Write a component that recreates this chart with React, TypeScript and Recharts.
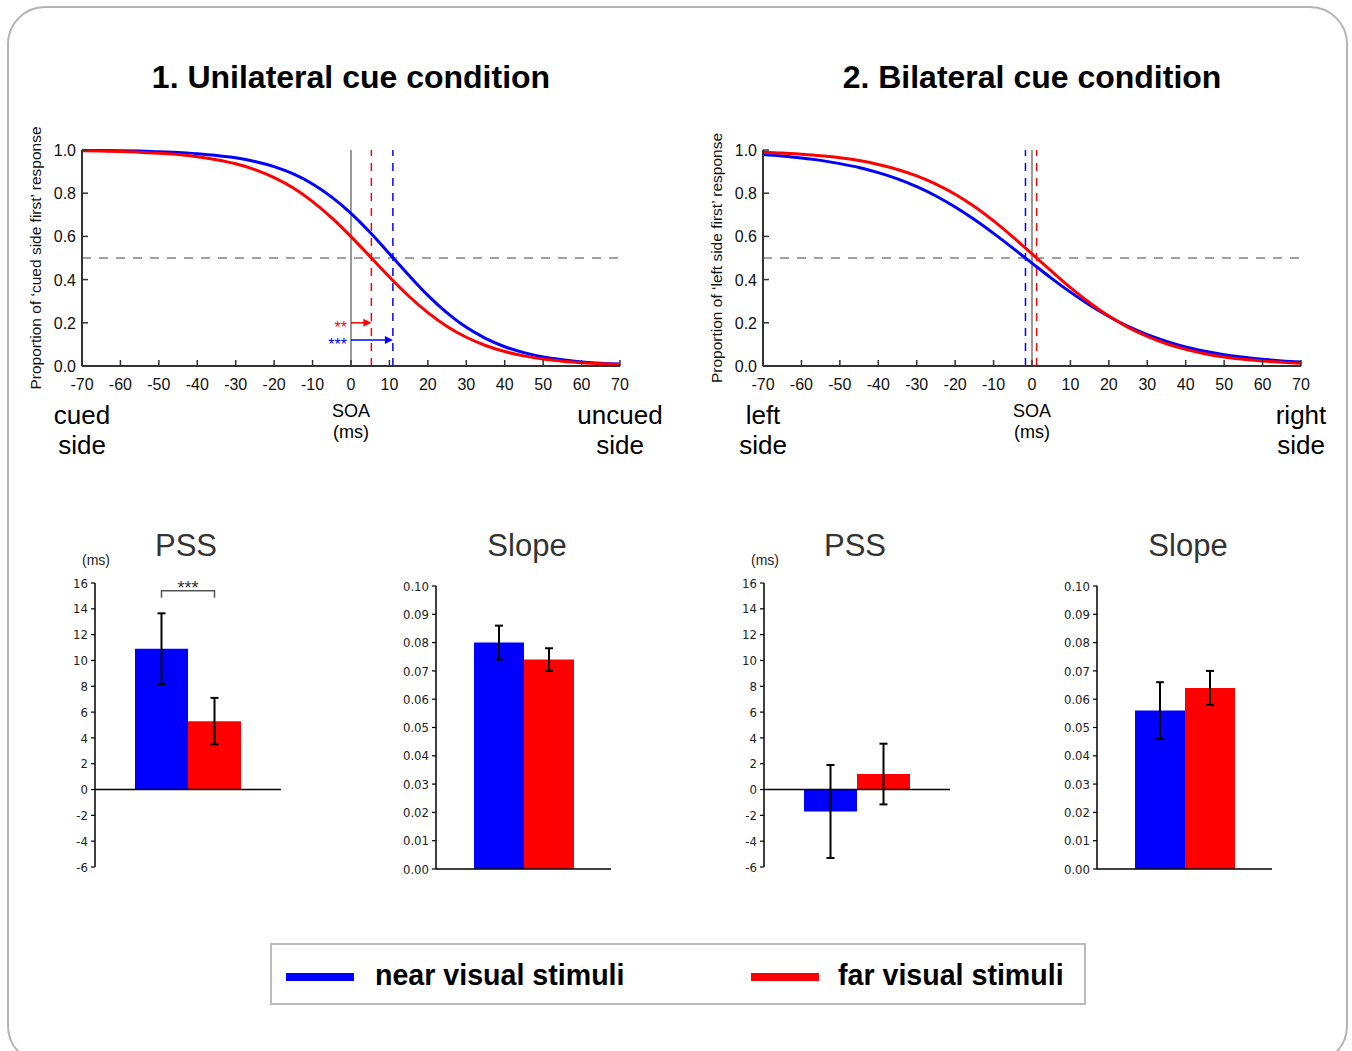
import React from "react";
import {
  LineChart,
  Line,
  XAxis,
  YAxis,
  ReferenceLine,
  BarChart,
  Bar,
  ErrorBar,
} from "recharts";

const SANS = "'Liberation Sans', Arial, Helvetica, sans-serif";
const NARROW = "'Liberation Sans Narrow', 'DejaVu Sans Condensed', 'Liberation Sans', Arial, sans-serif";
const NEAR = "#0000ff";
const FAR = "#ff0000";

const SOA = [-70, -65, -60, -55, -50, -45, -40, -35, -30, -25, -20, -15, -10, -5, 0, 5, 10, 15, 20, 25, 30, 35, 40, 45, 50, 55, 60, 65, 70];
const UNI_NEAR = [0.998, 0.998, 0.997, 0.995, 0.992, 0.989, 0.983, 0.975, 0.964, 0.947, 0.923, 0.889, 0.843, 0.782, 0.707, 0.618, 0.52, 0.421, 0.327, 0.246, 0.179, 0.128, 0.089, 0.062, 0.042, 0.029, 0.019, 0.013, 0.009];
const UNI_FAR = [0.997, 0.995, 0.993, 0.99, 0.985, 0.979, 0.969, 0.955, 0.936, 0.909, 0.872, 0.824, 0.761, 0.686, 0.599, 0.506, 0.412, 0.324, 0.247, 0.183, 0.133, 0.095, 0.067, 0.047, 0.032, 0.022, 0.015, 0.011, 0.007];
const BI_NEAR = [0.979, 0.972, 0.963, 0.952, 0.937, 0.919, 0.895, 0.866, 0.83, 0.787, 0.736, 0.678, 0.614, 0.546, 0.476, 0.407, 0.342, 0.282, 0.229, 0.183, 0.145, 0.114, 0.088, 0.068, 0.052, 0.04, 0.031, 0.023, 0.018];
const BI_FAR = [0.99, 0.986, 0.98, 0.973, 0.964, 0.951, 0.933, 0.91, 0.88, 0.842, 0.795, 0.738, 0.672, 0.598, 0.519, 0.44, 0.363, 0.293, 0.231, 0.179, 0.137, 0.103, 0.077, 0.057, 0.042, 0.031, 0.023, 0.017, 0.012];

const SOA_TICKS = [-70, -60, -50, -40, -30, -20, -10, 0, 10, 20, 30, 40, 50, 60, 70];
const PROP_TICKS = [0, 0.2, 0.4, 0.6, 0.8, 1.0];

// bar panels: [near, far]
const UNI_PSS = [10.9, 5.3];
const UNI_PSS_ERR = [2.75, 1.8];
const UNI_SLOPE = [0.08, 0.074];
const UNI_SLOPE_ERR = [0.006, 0.004];
const BI_PSS = [-1.7, 1.2];
const BI_PSS_ERR = [3.6, 2.35];
const BI_SLOPE = [0.056, 0.064];
const BI_SLOPE_ERR = [0.01, 0.006];

const PSS_TICKS = [-6, -4, -2, 0, 2, 4, 6, 8, 10, 12, 14, 16];
const SLOPE_TICKS = [0, 0.01, 0.02, 0.03, 0.04, 0.05, 0.06, 0.07, 0.08, 0.09, 0.1];
const BRACKET_LEVEL = 15.4;

function SoaTick({ x, y, payload }: any) {
  return (
    <g>
      <line x1={x} y1={y} x2={x} y2={y - 6} stroke="#333" strokeWidth={1.5} />
      <text x={x} y={y + 24} textAnchor="middle" fontSize={16} fill="#111" fontFamily={SANS}>
        {payload.value}
      </text>
    </g>
  );
}

function PropTick({ x, y, payload }: any) {
  return (
    <g>
      <line x1={x} y1={y} x2={x + 6} y2={y} stroke="#333" strokeWidth={1.5} />
      <text x={x - 6} y={y + 6} textAnchor="end" fontSize={16} fill="#111" fontFamily={SANS}>
        {Number(payload.value).toFixed(1)}
      </text>
    </g>
  );
}

function yTitle(text: string) {
  return (props: any) => {
    const vb = props.viewBox || {};
    const cx = (vb.x ?? 0) + 17;
    const cy = (vb.y ?? 0) + (vb.height ?? 0) / 2;
    return (
      <text
        x={cx}
        y={cy}
        transform={`rotate(-90 ${cx} ${cy})`}
        textAnchor="middle"
        dominantBaseline="middle"
        fontSize={15.5}
        fill="#111"
        fontFamily={SANS}
      >
        {text}
      </text>
    );
  };
}

function arrowShape(color: string, stars: string) {
  return (props: any) => {
    const { x1, y1, x2, y2 } = props;
    return (
      <g>
        <line x1={x1} y1={y1} x2={x2 - 6} y2={y2} stroke={color} strokeWidth={1.5} />
        <polygon points={`${x2},${y2} ${x2 - 8},${y2 - 4} ${x2 - 8},${y2 + 4}`} fill={color} />
        <text x={x1 - 4} y={y1 + 10} textAnchor="end" fontSize={16} fill={color} fontFamily={SANS}>
          {stars}
        </text>
      </g>
    );
  };
}

function CurvePanel({ left, near, far, pss, yLabel, arrows }: any) {
  const rows = SOA.map((soa, i) => ({ soa, near: near[i], far: far[i] }));
  return (
    <div style={{ position: "absolute", left, top: 110 }}>
      <LineChart width={640} height={300} data={rows} margin={{ top: 40, right: 40, left: 0, bottom: 14 }}>
        <XAxis
          type="number"
          dataKey="soa"
          domain={[-70, 70]}
          ticks={SOA_TICKS}
          interval={0}
          tickSize={0}
          tickMargin={0}
          tickLine={false}
          tick={<SoaTick />}
          axisLine={{ stroke: "#333", strokeWidth: 2 }}
          height={30}
        />
        <YAxis
          type="number"
          domain={[0, 1]}
          ticks={PROP_TICKS}
          interval={0}
          tickSize={0}
          tickMargin={0}
          tickLine={false}
          tick={<PropTick />}
          axisLine={{ stroke: "#333", strokeWidth: 2 }}
          width={62}
          label={yTitle(yLabel)}
        />
        <ReferenceLine y={0.5} stroke="#808080" strokeWidth={1.5} strokeDasharray="9 8" />
        <ReferenceLine x={0} stroke="#555" strokeWidth={1.2} />
        <ReferenceLine x={pss[0]} stroke={NEAR} strokeWidth={1.5} strokeDasharray="8 7" />
        <ReferenceLine x={pss[1]} stroke={FAR} strokeWidth={1.5} strokeDasharray="8 7" />
        {arrows && (
          <ReferenceLine
            segment={[{ x: 0, y: 0.2 }, { x: pss[1], y: 0.2 }]}
            stroke={FAR}
            shape={arrowShape(FAR, "**")}
          />
        )}
        {arrows && (
          <ReferenceLine
            segment={[{ x: 0, y: 0.12 }, { x: pss[0], y: 0.12 }]}
            stroke={NEAR}
            shape={arrowShape(NEAR, "***")}
          />
        )}
        <Line type="monotone" dataKey="near" stroke={NEAR} strokeWidth={3} dot={false} isAnimationActive={false} />
        <Line type="monotone" dataKey="far" stroke={FAR} strokeWidth={3} dot={false} isAnimationActive={false} />
      </LineChart>
    </div>
  );
}

function Bracket(props: any) {
  const x = Number(props.x);
  const y = Number(props.y);
  const w = Number(props.width);
  const h = Number(props.height);
  const v = Number(props.value);
  const ppu = h / v;
  const yb = y - (BRACKET_LEVEL - v) * ppu;
  const xa = x + w / 2;
  const xb = x + w * 1.5;
  return (
    <g>
      <path d={`M${xa},${yb + 7} L${xa},${yb} L${xb},${yb} L${xb},${yb + 7}`} fill="none" stroke="#555" strokeWidth={1.5} />
      <text x={(xa + xb) / 2} y={yb + 3} textAnchor="middle" fontSize={18} fill="#333" fontFamily={SANS}>
        ***
      </text>
    </g>
  );
}

function BarPanel({ left, top, width, height, axisW, margin, domain, ticks, fmt, values, errors, barSize, bracket }: any) {
  const rows = [{ cat: "c", near: values[0], far: values[1], nearErr: errors[0], farErr: errors[1] }];
  return (
    <div style={{ position: "absolute", left, top }}>
      <BarChart width={width} height={height} data={rows} margin={margin} barGap={0} barSize={barSize}>
        <XAxis dataKey="cat" hide />
        <YAxis
          type="number"
          domain={domain}
          ticks={ticks}
          interval={0}
          tickFormatter={fmt}
          width={axisW}
          tickSize={4}
          tickMargin={3}
          tickLine={{ stroke: "#000", strokeWidth: 1.2 }}
          axisLine={{ stroke: "#000", strokeWidth: 1.5 }}
          tick={{ fontSize: 13, fill: "#222", fontFamily: NARROW }}
          allowDataOverflow
        />
        <Bar
          dataKey="near"
          fill={NEAR}
          isAnimationActive={false}
          label={bracket ? (p: any) => <Bracket {...p} /> : false}
        >
          <ErrorBar dataKey="nearErr" width={4} stroke="#000" strokeWidth={2} direction="y" />
        </Bar>
        <Bar dataKey="far" fill={FAR} isAnimationActive={false}>
          <ErrorBar dataKey="farErr" width={4} stroke="#000" strokeWidth={2} direction="y" />
        </Bar>
        <ReferenceLine y={0} stroke="#000" strokeWidth={1.5} />
      </BarChart>
    </div>
  );
}

function Txt({ x, y, size, weight = 400, color = "#000", lh, align = "center", children }: any) {
  const style: React.CSSProperties = {
    position: "absolute",
    left: x,
    top: y,
    fontSize: size,
    fontWeight: weight,
    color,
    lineHeight: `${lh ?? size}px`,
    whiteSpace: "pre",
    textAlign: align,
    transform: align === "center" ? "translateX(-50%)" : undefined,
  };
  return <div style={style}>{children}</div>;
}

const pssFmt = (v: number) => String(v);
const slopeFmt = (v: number) => v.toFixed(2);

export default function App() {
  return (
    <div
      style={{
        position: "absolute",
        left: 0,
        top: 0,
        width: 1352,
        height: 1051,
        background: "#fff",
        fontFamily: SANS,
        overflow: "hidden",
      }}
    >
      <div
        style={{
          position: "absolute",
          left: 7,
          top: 6,
          width: 1341,
          height: 1058,
          border: "2px solid #b4b4b4",
          borderRadius: 38,
          boxSizing: "border-box",
        }}
      />

      <Txt x={351} y={61} size={32} weight={700}>1. Unilateral cue condition</Txt>
      <Txt x={1032} y={61} size={32} weight={700}>2. Bilateral cue condition</Txt>

      <CurvePanel
        left={20}
        near={UNI_NEAR}
        far={UNI_FAR}
        pss={UNI_PSS}
        yLabel="Proportion of ‘cued side first’ response"
        arrows
      />
      <CurvePanel
        left={701}
        near={BI_NEAR}
        far={BI_FAR}
        pss={BI_PSS}
        yLabel="Proportion of ‘left side first’ response"
        arrows={false}
      />

      <Txt x={82} y={400} size={26} lh={30}>{"cued\nside"}</Txt>
      <Txt x={351} y={401} size={18} lh={21}>{"SOA\n(ms)"}</Txt>
      <Txt x={620} y={400} size={26} lh={30}>{"uncued\nside"}</Txt>
      <Txt x={763} y={400} size={26} lh={30}>{"left\nside"}</Txt>
      <Txt x={1032} y={401} size={18} lh={21}>{"SOA\n(ms)"}</Txt>
      <Txt x={1301} y={400} size={26} lh={30}>{"right\nside"}</Txt>

      <Txt x={186} y={530} size={31} color="#333">PSS</Txt>
      <Txt x={527} y={530} size={31} color="#333">Slope</Txt>
      <Txt x={855} y={530} size={31} color="#333">PSS</Txt>
      <Txt x={1188} y={530} size={31} color="#333">Slope</Txt>
      <Txt x={96} y={553} size={14} color="#222">(ms)</Txt>
      <Txt x={765} y={553} size={14} color="#222">(ms)</Txt>

      <BarPanel
        left={40}
        top={560}
        width={260}
        height={320}
        axisW={55}
        margin={{ top: 23, right: 19, left: 0, bottom: 13 }}
        domain={[-6, 16]}
        ticks={PSS_TICKS}
        fmt={pssFmt}
        values={UNI_PSS}
        errors={UNI_PSS_ERR}
        barSize={53}
        bracket
      />
      <BarPanel
        left={380}
        top={570}
        width={250}
        height={310}
        axisW={56}
        margin={{ top: 16, right: 19, left: 0, bottom: 11 }}
        domain={[0, 0.1]}
        ticks={SLOPE_TICKS}
        fmt={slopeFmt}
        values={UNI_SLOPE}
        errors={UNI_SLOPE_ERR}
        barSize={50}
      />
      <BarPanel
        left={710}
        top={560}
        width={260}
        height={320}
        axisW={54}
        margin={{ top: 23, right: 20, left: 0, bottom: 13 }}
        domain={[-6, 16]}
        ticks={PSS_TICKS}
        fmt={pssFmt}
        values={BI_PSS}
        errors={BI_PSS_ERR}
        barSize={53}
      />
      <BarPanel
        left={1040}
        top={570}
        width={250}
        height={310}
        axisW={57}
        margin={{ top: 16, right: 18, left: 0, bottom: 11 }}
        domain={[0, 0.1]}
        ticks={SLOPE_TICKS}
        fmt={slopeFmt}
        values={BI_SLOPE}
        errors={BI_SLOPE_ERR}
        barSize={50}
      />

      <div
        style={{
          position: "absolute",
          left: 270,
          top: 943,
          width: 816,
          height: 62,
          border: "2px solid #bbb",
          boxSizing: "border-box",
        }}
      >
        <div style={{ position: "absolute", left: 14, top: 28, width: 68, height: 8, background: NEAR }} />
        <Txt x={103} y={16} size={28.6} weight={700} align="left">near visual stimuli</Txt>
        <div style={{ position: "absolute", left: 479, top: 28, width: 68, height: 8, background: FAR }} />
        <Txt x={566} y={16} size={28.6} weight={700} align="left">far visual stimuli</Txt>
      </div>
    </div>
  );
}
